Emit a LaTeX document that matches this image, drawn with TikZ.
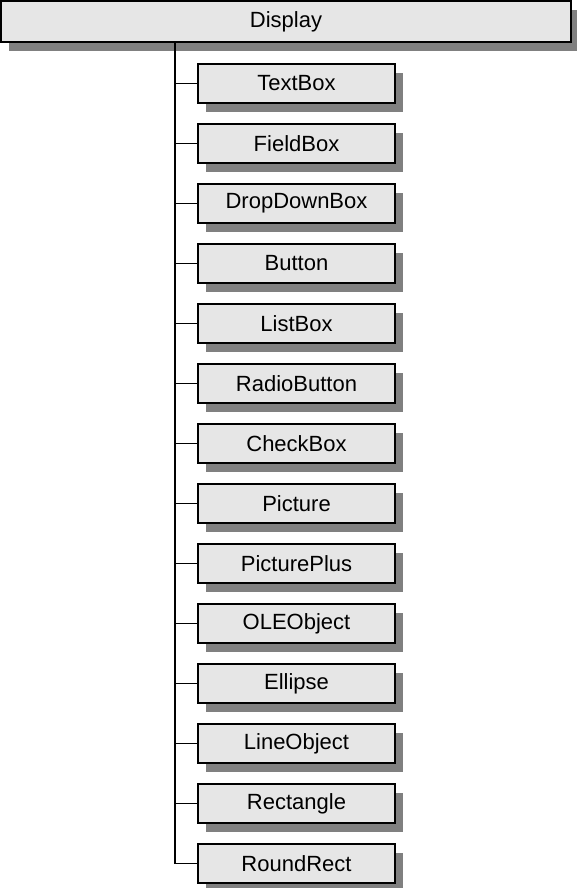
\documentclass[tikz,border=0pt]{standalone}
\usepackage{fontspec}
\setmainfont{Liberation Sans}
\usetikzlibrary{shadows}
\definecolor{boxgray}{RGB}{230,230,230}
\definecolor{shadowgray}{RGB}{128,128,128}
\tikzset{
  classbox/.style={draw, line width=1.6pt, fill=boxgray,
    minimum height=39pt, inner sep=0pt,
    font=\fontsize{22}{26}\selectfont,
    general shadow={fill=shadowgray, shadow xshift=8pt, shadow yshift=-9pt}},
  child/.style={classbox, minimum width=197pt},
  branch/.style={line width=1.4pt}
}
\begin{document}
\begin{tikzpicture}[x=1pt,y=-1pt]
    \useasboundingbox (0,0) rectangle (576,888);
    \node[classbox, minimum width=570pt, minimum height=41pt] (display) at (286,21.5) {Display};
    \node[child] (textbox) at (296.5,83.5) {TextBox};
    \node[child] (fieldbox) at (296.5,143.5) {FieldBox};
    \node[child] (dropdown) at (296.5,203.5) {DropDownBox};
    \node[child] (button) at (296.5,263.5) {Button};
    \node[child] (listbox) at (296.5,323.5) {ListBox};
    \node[child] (radio) at (296.5,383.5) {RadioButton};
    \node[child] (checkbox) at (296.5,443.5) {CheckBox};
    \node[child] (pic) at (296.5,503.5) {Picture};
    \node[child] (picplus) at (296.5,563.5) {PicturePlus};
    \node[child] (ole) at (296.5,623.5) {OLEObject};
    \node[child] (ellip) at (296.5,683.5) {Ellipse};
    \node[child] (lineobj) at (296.5,743.5) {LineObject};
    \node[child] (rect) at (296.5,803.5) {Rectangle};
    \node[child] (roundrect) at (296.5,863.5) {RoundRect};
    \coordinate (trunk) at (175,42);
    % Stamm und Abzweige
    \draw[branch] (trunk) |- (roundrect.west);
    \draw[branch] (trunk |- textbox.west) -- (textbox.west);
    \draw[branch] (trunk |- fieldbox.west) -- (fieldbox.west);
    \draw[branch] (trunk |- dropdown.west) -- (dropdown.west);
    \draw[branch] (trunk |- button.west) -- (button.west);
    \draw[branch] (trunk |- listbox.west) -- (listbox.west);
    \draw[branch] (trunk |- radio.west) -- (radio.west);
    \draw[branch] (trunk |- checkbox.west) -- (checkbox.west);
    \draw[branch] (trunk |- pic.west) -- (pic.west);
    \draw[branch] (trunk |- picplus.west) -- (picplus.west);
    \draw[branch] (trunk |- ole.west) -- (ole.west);
    \draw[branch] (trunk |- ellip.west) -- (ellip.west);
    \draw[branch] (trunk |- lineobj.west) -- (lineobj.west);
    \draw[branch] (trunk |- rect.west) -- (rect.west);
\end{tikzpicture}
\end{document}
